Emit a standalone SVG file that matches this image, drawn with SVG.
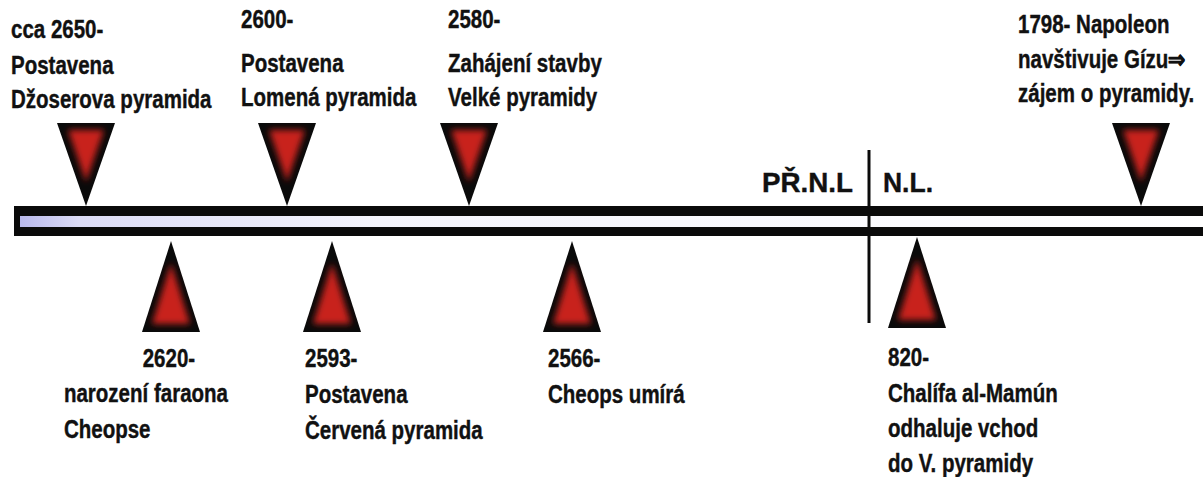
<svg xmlns="http://www.w3.org/2000/svg" width="1203" height="477" viewBox="0 0 1203 477">
<style>
.lbl{font-family:"Liberation Sans",Arial,sans-serif;font-weight:bold;font-size:25px;fill:#111;stroke:#111;stroke-width:0.4}
.era{font-family:"Liberation Sans",Arial,sans-serif;font-weight:bold;font-size:28px;fill:#111;stroke:#111;stroke-width:0.4}
.tri{fill:#0a0a0a}
.core{fill:#c8221f;filter:url(#soft)}
</style>
<defs>
<filter id="soft" x="-50%" y="-50%" width="200%" height="200%"><feGaussianBlur stdDeviation="3"/></filter>
<linearGradient id="barfill" x1="0" y1="0" x2="1" y2="0">
<stop offset="0" stop-color="#b9b9ec"/>
<stop offset="0.05" stop-color="#dcdcf6"/>
<stop offset="0.3" stop-color="#f4f4fc"/>
<stop offset="1" stop-color="#ffffff"/>
</linearGradient>
<g id="down">
<polygon class="tri" points="-29,-83 29,-83 0,0"/>
<polygon class="core" points="-18,-76 18,-76 0,-24"/>
</g>
<g id="up">
<polygon class="tri" points="0,0 -29,91 29,91"/>
<polygon class="core" points="0,22 -19,83 19,83"/>
</g>
</defs>
<rect width="1203" height="477" fill="#ffffff"/>

<g id="connectors">
<rect x="14" y="206" width="1195" height="30" fill="#0a0a0a"/>
<rect x="20" y="216" width="1189" height="11" fill="url(#barfill)"/>
<line x1="869" y1="150" x2="869" y2="323" stroke="#0a0a0a" stroke-width="3"/>
</g>

<g id="era-labels">
<text class="era" x="762" y="192" textLength="91" lengthAdjust="spacingAndGlyphs">PŘ.N.L</text>
<text class="era" x="883" y="192" textLength="50" lengthAdjust="spacingAndGlyphs">N.L.</text>
</g>

<g id="e2650">
<use href="#down" x="86" y="206"/>
<text class="lbl" transform="matrix(0.82 0 0 1 11 0)"><tspan x="0" y="38">cca 2650-</tspan><tspan x="0" y="74">Postavena</tspan><tspan x="0" y="108">Džoserova pyramida</tspan></text>
</g>

<g id="e2600">
<use href="#down" x="287" y="206"/>
<text class="lbl" transform="matrix(0.82 0 0 1 241 0)"><tspan x="0" y="28">2600-</tspan><tspan x="0" y="72">Postavena</tspan><tspan x="0" y="106">Lomená pyramida</tspan></text>
</g>

<g id="e2580">
<use href="#down" x="469" y="206"/>
<text class="lbl" transform="matrix(0.82 0 0 1 448 0)"><tspan x="0" y="28">2580-</tspan><tspan x="0" y="72">Zahájení stavby</tspan><tspan x="0" y="106">Velké pyramidy</tspan></text>
</g>

<g id="e1798">
<use href="#down" x="1141" y="206"/>
<text class="lbl" transform="matrix(0.82 0 0 1 1018 0)"><tspan x="0" y="33">1798- Napoleon</tspan><tspan x="0" y="68">navštivuje Gízu⇒</tspan><tspan x="0" y="102">zájem o pyramidy.</tspan></text>
</g>

<g id="e2620">
<use href="#up" x="171" y="241"/>
<text class="lbl" transform="matrix(0.82 0 0 1 0 0)"><tspan x="174" y="367">2620-</tspan><tspan x="78" y="402">narození faraona</tspan><tspan x="78" y="438">Cheopse</tspan></text>
</g>

<g id="e2593">
<use href="#up" x="332" y="241"/>
<text class="lbl" transform="matrix(0.82 0 0 1 305 0)"><tspan x="0" y="367">2593-</tspan><tspan x="0" y="403">Postavena</tspan><tspan x="0" y="439">Červená pyramida</tspan></text>
</g>

<g id="e2566">
<use href="#up" x="572" y="241"/>
<text class="lbl" transform="matrix(0.82 0 0 1 548 0)"><tspan x="0" y="367">2566-</tspan><tspan x="0" y="403">Cheops umírá</tspan></text>
</g>

<g id="e820">
<use href="#up" x="917" y="237"/>
<text class="lbl" transform="matrix(0.82 0 0 1 888 0)"><tspan x="0" y="366">820-</tspan><tspan x="0" y="402">Chalífa al-Mamún</tspan><tspan x="0" y="437">odhaluje vchod</tspan><tspan x="0" y="472">do V. pyramidy</tspan></text>
</g>
</svg>
